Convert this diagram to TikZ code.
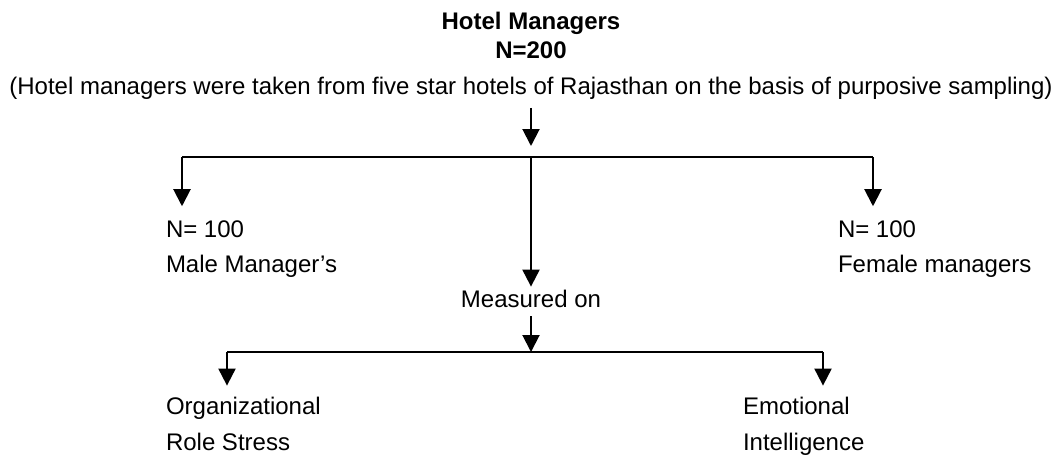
\documentclass[tikz,border=0pt]{standalone}
\usepackage{fontspec}
\setmainfont{Liberation Sans}
\usetikzlibrary{arrows.meta,positioning}

\begin{document}
\begin{tikzpicture}[x=0.5pt,y=-0.5pt,line width=1pt,
    conn/.style={-{Triangle[length=8.5pt,width=8.5pt]}},
    txt/.style={inner xsep=0pt,inner ysep=1pt,font=\fontsize{12}{14}\selectfont},
    head/.style={txt,anchor=base,font=\fontsize{12}{14}\selectfont\bfseries},
    lbl/.style={txt,anchor=base west}]
    \useasboundingbox (0,0) rectangle (1056,455);

    % we set the title and the sampling note
    \node[head] (title) at (531,30) {Hotel Managers};
    \node[head] (size) at (531,58) {N=200};
    \node[txt,anchor=base] (sample) at (531,94) {(Hotel managers were taken from five star hotels of Rajasthan on the basis of purposive sampling)};

    % we set the two groups and the measures
    \node[lbl] (maleN) at (165,237) {N= 100};
    \node[lbl] (male) at (165,272) {Male Manager’s};
    \node[lbl] (femaleN) at (837,237) {N= 100};
    \node[lbl] (female) at (837,272) {Female managers};
    \node[txt,anchor=base] (measured) at (531,307) {Measured on};
    \node[lbl] (org) at (165,414) {Organizational};
    \node[lbl] (orgB) at (165,450) {Role Stress};
    \node[lbl] (emo) at (742,414) {Emotional};
    \node[lbl] (emoB) at (742,450) {Intelligence};

    % we draw the first split
    \coordinate (split) at (531,157);
    \coordinate (splitL) at (182,157);
    \coordinate (splitR) at (873,157);
    \draw[conn, shorten <=3pt, shorten >=5.5pt] (sample.south) -- (split);
    \draw (splitL) -- (splitR);
    \draw[conn, shorten >=5.5pt] (splitL) -- (splitL |- maleN.north);
    \draw[conn, shorten >=5.5pt] (splitR) -- (splitR |- femaleN.north);
    \draw[conn] (split) -- (measured.north);

    % we draw the second split
    \coordinate (join) at (531,352);
    \coordinate (joinL) at (227,352);
    \coordinate (joinR) at (823,352);
    \draw[conn, shorten <=3pt] (measured.south) -- (join);
    \draw (joinL) -- (joinR);
    \draw[conn, shorten >=4pt] (joinL) -- (joinL |- org.north);
    \draw[conn, shorten >=4pt] (joinR) -- (joinR |- emo.north);
\end{tikzpicture}
\end{document}
